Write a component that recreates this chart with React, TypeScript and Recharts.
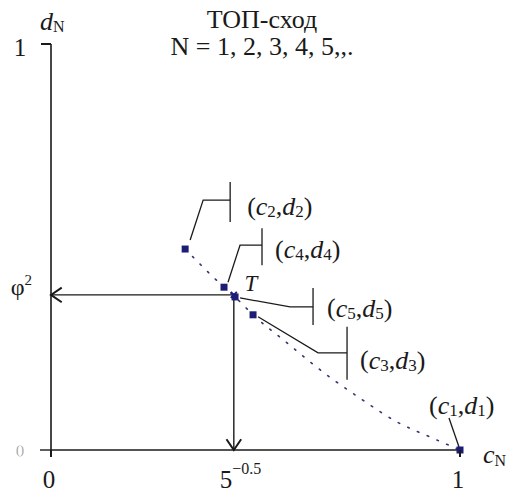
import { ComposedChart, XAxis, YAxis, Line, Scatter, ReferenceLine } from "recharts";

const FONT = "'Liberation Serif', 'Times New Roman', serif";
const INK = "#1a1a1a";
const NAVY = "#1d1d78";

const PHI2 = 0.382; // φ² = (3 - √5) / 2
const ROOT5 = 0.447; // 5^-0.5

// iterates (c_N, d_N) for N = 1..5
const iterN = [1, 2, 3, 4, 5];
const iterC = [1, 0.328, 0.494, 0.423, 0.45];
const iterD = [0, 0.495, 0.333, 0.401, 0.377];

// dotted trace the iterates sit on
const traceC = [0.328, 0.423, 0.45, 0.494, 0.577, 0.665, 0.755, 0.846, 0.927, 1];
const traceD = [0.495, 0.401, 0.377, 0.333, 0.264, 0.192, 0.128, 0.069, 0.032, 0];

const xTicks = [0, ROOT5, 1];
const yTicks = [0, PHI2, 1];

const iterData = iterN.map((n, i) => ({ n, c: iterC[i], d: iterD[i] }));
const traceData = traceC.map((c, i) => ({ c, d: traceD[i] }));
const limitData = [{ c: ROOT5, d: PHI2 }];

// leader line, bracket bar and label offsets (px) for each iterate
const callouts: Record<number, { path: number[][]; bar?: number[]; text: number[] }> = {
  1: { path: [[-1, -3], [-11, -32]], text: [-31, -45] },
  2: { path: [[5, -9], [18, -49], [45, -49]], bar: [45, -67, -27], text: [62, -43] },
  3: { path: [[5, 2], [65, 38], [94, 38]], bar: [94, 12, 65], text: [107, 45] },
  4: { path: [[4, -5], [16, -42], [38, -42]], bar: [38, -59, -22], text: [51, -38] },
  5: { path: [[5, 1], [55, 10], [78, 10]], bar: [78, -9, 28], text: [92, 11] },
};

function PairLabel({ x, y, n }: { x: number; y: number; n: number }) {
  return (
    <text x={x} y={y} fontFamily={FONT} fontSize={26} fill={INK} dominantBaseline="central">
      (<tspan fontStyle="italic">c</tspan>
      <tspan fontSize={17} dy={5}>{n}</tspan>
      <tspan dy={-5}>,</tspan>
      <tspan fontStyle="italic">d</tspan>
      <tspan fontSize={17} dy={5}>{n}</tspan>
      <tspan dy={-5}>)</tspan>
    </text>
  );
}

function IterPoint(props: any) {
  const { cx, cy, payload } = props;
  const co = callouts[payload.n];
  const pts = co.path.map(([dx, dy]) => `${cx + dx},${cy + dy}`).join(" ");
  return (
    <g>
      <polyline points={pts} fill="none" stroke={INK} strokeWidth={1.3} />
      {co.bar && (
        <line
          x1={cx + co.bar[0]}
          y1={cy + co.bar[1]}
          x2={cx + co.bar[0]}
          y2={cy + co.bar[2]}
          stroke={INK}
          strokeWidth={1.3}
        />
      )}
      <rect x={cx - 3.5} y={cy - 3.5} width={7} height={7} fill={NAVY} />
      <PairLabel x={cx + co.text[0]} y={cy + co.text[1]} n={payload.n} />
    </g>
  );
}

function LimitPoint(props: any) {
  const { cx, cy } = props;
  return (
    <g>
      <line x1={cx - 3} y1={cy - 3} x2={cx + 3} y2={cy + 3} stroke={NAVY} strokeWidth={2} />
      <line x1={cx - 3} y1={cy + 3} x2={cx + 3} y2={cy - 3} stroke={NAVY} strokeWidth={2} />
      <text x={cx + 17} y={cy - 11} fontFamily={FONT} fontSize={23} fontStyle="italic" fill={INK} textAnchor="middle" dominantBaseline="central">
        T
      </text>
    </g>
  );
}

// projection line with an open arrowhead at its far end
function Arrow(props: any) {
  const { x1, y1, x2, y2 } = props;
  const a = Math.atan2(y2 - y1, x2 - x1);
  const len = 13;
  const spread = 0.6;
  const h1x = x2 - len * Math.cos(a - spread);
  const h1y = y2 - len * Math.sin(a - spread);
  const h2x = x2 - len * Math.cos(a + spread);
  const h2y = y2 - len * Math.sin(a + spread);
  return (
    <g>
      <line x1={x1} y1={y1} x2={x2} y2={y2} stroke={INK} strokeWidth={1.4} />
      <polyline points={`${h1x},${h1y} ${x2},${y2} ${h2x},${h2y}`} fill="none" stroke={INK} strokeWidth={2} />
    </g>
  );
}

function YTick(props: any) {
  const { x, y, payload } = props;
  const v = payload.value;
  if (v === 1) {
    return (
      <g>
        <line x1={x - 10} y1={y} x2={x} y2={y} stroke={INK} strokeWidth={2} />
        <text x={x - 31} y={y + 3} fontFamily={FONT} fontSize={25} fill={INK} textAnchor="middle" dominantBaseline="central">1</text>
      </g>
    );
  }
  if (v === PHI2) {
    return (
      <text x={x - 19} y={y - 8} fontFamily={FONT} fontSize={24} fill={INK} textAnchor="end" dominantBaseline="central">
        φ<tspan fontSize={15} dy={-7}>2</tspan>
      </text>
    );
  }
  return (
    <g>
      <line x1={x - 11} y1={y} x2={x} y2={y} stroke={INK} strokeWidth={1.4} />
      <text x={x - 31} y={y} fontFamily={FONT} fontSize={12} fill="#999" textAnchor="middle" dominantBaseline="central">()</text>
    </g>
  );
}

function XTick(props: any) {
  const { x, y, payload } = props;
  const v = payload.value;
  if (v === ROOT5) {
    return (
      <text x={x - 14} y={y + 29} fontFamily={FONT} fontSize={25} fill={INK} dominantBaseline="central">
        5<tspan fontSize={16} dy={-11}>−0.5</tspan>
      </text>
    );
  }
  return (
    <g>
      <line x1={x} y1={y} x2={x} y2={y + 7} stroke={INK} strokeWidth={2} />
      <text x={x - 2} y={y + 29} fontFamily={FONT} fontSize={25} fill={INK} textAnchor="middle" dominantBaseline="central">
        {v === 0 ? "0" : "1"}
      </text>
    </g>
  );
}

export default function App() {
  return (
    <div style={{ position: "absolute", left: 0, top: 0, width: 520, height: 492, background: "#fff" }}>
      <div
        style={{
          position: "absolute",
          left: 0,
          width: 524,
          top: 6,
          textAlign: "center",
          fontFamily: FONT,
          fontSize: 26,
          lineHeight: "27px",
          color: INK,
        }}
      >
        <div>ТОП-сход</div>
        <div>N = 1, 2, 3, 4, 5,,.</div>
      </div>
      <ComposedChart width={520} height={492} margin={{ top: 44, right: 60, bottom: 41, left: 50 }}>
        <XAxis
          dataKey="c"
          type="number"
          domain={[0, 1]}
          ticks={xTicks}
          height={1}
          tickSize={0}
          tickMargin={0}
          tickLine={false}
          axisLine={{ stroke: INK, strokeWidth: 1.6 }}
          tick={<XTick />}
          interval={0}
          label={{
            content: (p: any) => (
              <text x={p.viewBox.x + p.viewBox.width + 23} y={p.viewBox.y + 4} fontFamily={FONT} fontSize={26} fill={INK} dominantBaseline="central">
                <tspan fontStyle="italic">c</tspan>
                <tspan fontSize={16} dy={6}>N</tspan>
              </text>
            ),
          }}
        />
        <YAxis
          dataKey="d"
          type="number"
          domain={[0, 1]}
          ticks={yTicks}
          width={1}
          tickSize={0}
          tickMargin={0}
          tickLine={false}
          axisLine={{ stroke: INK, strokeWidth: 1.6 }}
          tick={<YTick />}
          interval={0}
          label={{
            content: (p: any) => (
              <text x={p.viewBox.x - 10} y={p.viewBox.y - 23} fontFamily={FONT} fontSize={26} fill={INK} dominantBaseline="central">
                <tspan fontStyle="italic">d</tspan>
                <tspan fontSize={16} dy={5}>N</tspan>
              </text>
            ),
          }}
        />
        <ReferenceLine segment={[{ x: ROOT5, y: PHI2 }, { x: 0, y: PHI2 }]} shape={<Arrow />} />
        <ReferenceLine segment={[{ x: ROOT5, y: PHI2 }, { x: ROOT5, y: 0 }]} shape={<Arrow />} />
        <Line
          data={traceData}
          dataKey="d"
          type="monotone"
          stroke="#34346e"
          strokeWidth={1.6}
          strokeDasharray="1.6 9"
          strokeLinecap="round"
          dot={false}
          activeDot={false}
          isAnimationActive={false}
        />
        <Scatter data={limitData} shape={<LimitPoint />} isAnimationActive={false} />
        <Scatter data={iterData} shape={<IterPoint />} isAnimationActive={false} />
      </ComposedChart>
    </div>
  );
}
